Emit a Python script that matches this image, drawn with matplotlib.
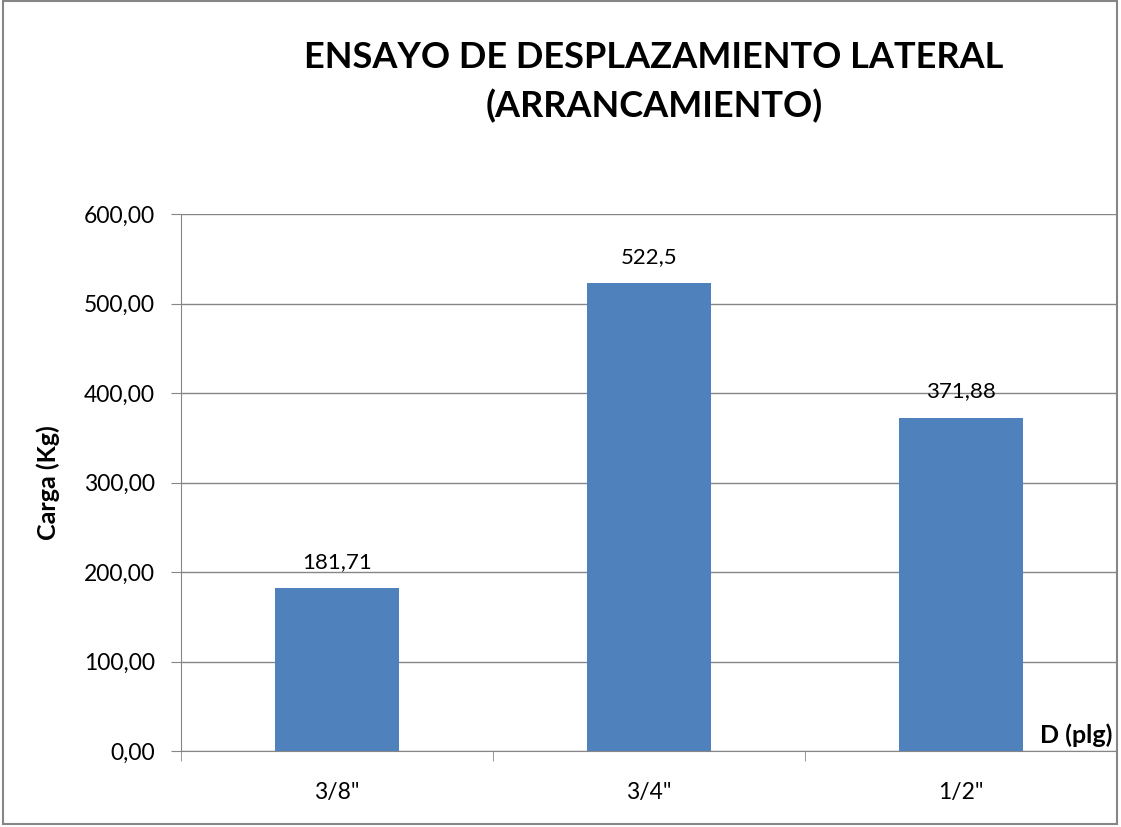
import numpy as np
import matplotlib
matplotlib.use("Agg")
from matplotlib import pyplot as plt
from matplotlib.patches import Rectangle

# data
categories = ['3/8"', '3/4"', '1/2"']
carga = [181.71, 522.5, 371.88]
labels = ["181,71", "522,5", "371,88"]
y_ticks = [0, 100, 200, 300, 400, 500, 600]

plt.rcParams['font.family'] = ['Lato', 'DejaVu Sans']
gray = "#868686"
bar_color = "#4F81BD"

W, H = 1121, 827
fig = plt.figure(figsize=(W / 100, H / 100), dpi=100)

# outer chart border
fig.patches.append(Rectangle((3 / W, 1 - 824 / H), (1117 - 3) / W, (824 - 1) / H,
                             transform=fig.transFigure, fill=False,
                             edgecolor=gray, linewidth=1.5))

ax = fig.add_axes([181 / W, 1 - 751 / H, (1117 - 181) / W, (751 - 214) / H])
x = np.arange(len(categories))
ax.bar(x, carga, width=0.4, color=bar_color, zorder=3)

for xi, v, lab in zip(x, carga, labels):
    ax.annotate(lab, (xi, v), xytext=(0, 12), textcoords="offset points",
                ha="center", va="bottom", fontsize=16)

ax.set_xlim(-0.5, 2.5)
ax.set_ylim(0, 600)
ax.set_yticks(y_ticks)
ax.set_yticklabels([f"{t:.2f}".replace(".", ",") for t in y_ticks], fontsize=16.5)
ax.set_xticks(x)
ax.set_xticklabels(categories, fontsize=16.5)
ax.set_xticks([-0.5, 0.5, 1.5, 2.5], minor=True)
ax.tick_params(axis="x", which="major", length=0, pad=22)
ax.tick_params(axis="x", which="minor", length=7, color=gray, direction="out")
ax.tick_params(axis="y", length=7, color=gray, direction="out", pad=12)

ax.grid(axis="y", color=gray, linewidth=1, zorder=0)
for s in ["top", "right"]:
    ax.spines[s].set_visible(False)
for s in ["left", "bottom"]:
    ax.spines[s].set_color(gray)
    ax.spines[s].set_zorder(4)

ax.set_ylabel("Carga (Kg)", fontsize=18, fontweight="bold", labelpad=17)
ax.text(0.995, 0.008, "D (plg)", transform=ax.transAxes, ha="right", va="bottom",
        fontsize=18, fontweight="bold")

fig.text(654 / W, 1 - 82 / H, "ENSAYO DE DESPLAZAMIENTO LATERAL\n(ARRANCAMIENTO)",
         ha="center", va="center", fontsize=26, fontweight="bold", linespacing=1.5)

fig.savefig("out.png", dpi=100)
